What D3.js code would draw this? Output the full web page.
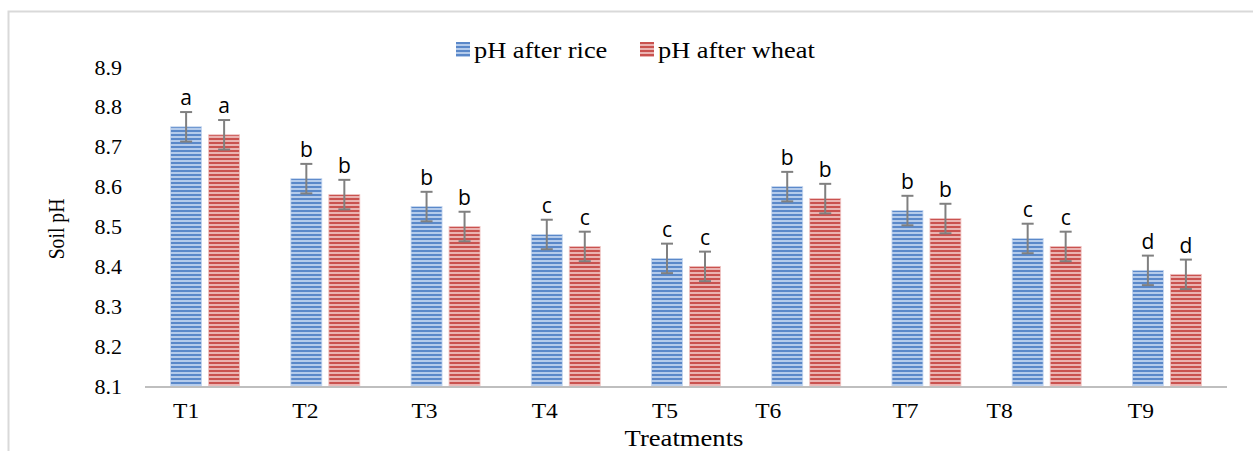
<!DOCTYPE html>
<html>
<head>
<meta charset="utf-8">
<script src="https://cdn.jsdelivr.net/npm/d3@7"></script>
<style>
  body { margin: 0; background: #fff; }
  svg { display: block; }
</style>
</head>
<body>
<div id="chart"></div>
<script>
// data
var treatments = ["T1", "T2", "T3", "T4", "T5", "T6", "T7", "T8", "T9"];
var phRice  = [8.75, 8.62, 8.55, 8.48, 8.42, 8.60, 8.54, 8.47, 8.39];
var phWheat = [8.73, 8.58, 8.50, 8.45, 8.40, 8.57, 8.52, 8.45, 8.38];
var errRice  = [0.037, 0.037, 0.037, 0.037, 0.037, 0.037, 0.037, 0.037, 0.037];
var errWheat = [0.037, 0.037, 0.037, 0.037, 0.037, 0.037, 0.037, 0.037, 0.037];
var lettersRice  = ["a", "b", "b", "c", "c", "b", "b", "c", "d"];
var lettersWheat = ["a", "b", "b", "c", "c", "b", "b", "c", "d"];
var yTicks = [8.1, 8.2, 8.3, 8.4, 8.5, 8.6, 8.7, 8.8, 8.9];
// the category labels in the original sit off-centre (hand placed)
var labelShift = [-19, -20, -21, -21, -21, -38, -21, -47, -26];

var svgWidth = 1253;
var svgHeight = 451;
var serif = "'Liberation Serif', 'Times New Roman', serif";

var svg = d3.select("#chart").append("svg")
    .attr("width", svgWidth)
    .attr("height", svgHeight);

// stripe patterns for the bars
var defs = svg.append("defs");
function stripes(id, light, dark) {
    var p = defs.append("pattern")
        .attr("id", id)
        .attr("patternUnits", "userSpaceOnUse")
        .attr("width", 8).attr("height", 4);
    p.append("rect").attr("width", 8).attr("height", 4).attr("fill", light);
    p.append("rect").attr("y", 2).attr("width", 8).attr("height", 2).attr("fill", dark);
}
stripes("riceFill", "#b4cbeb", "#5a88c9");
stripes("wheatFill", "#eab3b1", "#c9524f");

// outer frame (only top and left edges visible)
svg.append("path")
    .attr("d", "M8.5,451 V11.5 H1253")
    .attr("fill", "none")
    .attr("stroke", "#d9d9d9")
    .attr("stroke-width", 2);

var x = d3.scaleBand()
    .domain(treatments)
    .range([145, 1227]);

var y = d3.scaleLinear()
    .domain([8.1, 8.9])
    .range([386, 67]);

var barW = 31, gap = 7;

// y tick labels (no axis line in original)
var yAxis = d3.axisLeft(y).tickValues(yTicks).tickFormat(d3.format(".1f")).tickSize(0).tickPadding(0);
var yg = svg.append("g")
    .attr("transform", "translate(122,0)")
    .call(yAxis);
yg.select(".domain").remove();
yg.selectAll("text")
    .attr("font-family", serif)
    .attr("font-size", 22)
    .attr("fill", "#000");

// bars
var groups = svg.append("g").selectAll("g")
    .data(treatments)
    .join("g")
    .attr("transform", d => "translate(" + (x(d) + x.bandwidth() / 2) + ",0)");

function drawSeries(vals, errs, letters, fill, edge, dx) {
    groups.append("rect")
        .attr("x", (d, i) => dx)
        .attr("y", (d, i) => y(vals[i]))
        .attr("width", barW)
        .attr("height", (d, i) => y(8.1) - y(vals[i]))
        .attr("fill", "url(#" + fill + ")")
        .attr("stroke", edge)
        .attr("stroke-width", 0.8);

    var cx = dx + barW / 2;
    groups.append("line")
        .attr("x1", cx).attr("x2", cx)
        .attr("y1", (d, i) => y(vals[i] + errs[i]))
        .attr("y2", (d, i) => y(vals[i] - errs[i]))
        .attr("stroke", "#808080").attr("stroke-width", 2);
    [1, -1].forEach(function(s) {
        groups.append("line")
            .attr("x1", cx - 6).attr("x2", cx + 6)
            .attr("y1", (d, i) => y(vals[i] + s * errs[i]))
            .attr("y2", (d, i) => y(vals[i] + s * errs[i]))
            .attr("stroke", "#808080").attr("stroke-width", 2);
    });

    groups.append("text")
        .attr("x", cx)
        .attr("y", (d, i) => y(vals[i] + errs[i]) - 7)
        .attr("text-anchor", "middle")
        .attr("font-family", "'Open Sans', 'Liberation Sans', sans-serif")
        .attr("font-size", 21)
        .attr("fill", "#000")
        .text((d, i) => letters[i]);
}
drawSeries(phRice, errRice, lettersRice, "riceFill", "#c6d7ef", -barW - gap / 2);
drawSeries(phWheat, errWheat, lettersWheat, "wheatFill", "#efc4c3", gap / 2);

// x axis line
svg.append("line")
    .attr("x1", x.range()[0]).attr("x2", x.range()[1])
    .attr("y1", y(8.1) + 1).attr("y2", y(8.1) + 1)
    .attr("stroke", "#bfbfbf").attr("stroke-width", 2);

// category labels
svg.append("g").selectAll("text")
    .data(treatments)
    .join("text")
    .attr("transform", (d, i) => "translate(" + (x(d) + x.bandwidth() / 2 + labelShift[i]) + ",418) scale(1.07,1)")
    .attr("text-anchor", "middle")
    .attr("font-family", serif)
    .attr("font-size", 22)
    .attr("fill", "#000")
    .text(d => d);

// axis titles
svg.append("text")
    .attr("transform", "translate(684,446) scale(1.11,1)")
    .attr("text-anchor", "middle")
    .attr("font-family", serif)
    .attr("font-size", 24)
    .text("Treatments");

svg.append("text")
    .attr("transform", "translate(64,229) scale(1,0.82) rotate(-90)")
    .attr("text-anchor", "middle")
    .attr("font-family", serif)
    .attr("font-size", 24)
    .text("Soil pH");

// legend
var legend = [
    { name: "pH after rice", fill: "riceFill", x: 456 },
    { name: "pH after wheat", fill: "wheatFill", x: 640 }
];
var lg = svg.append("g").selectAll("g")
    .data(legend)
    .join("g")
    .attr("transform", d => "translate(" + d.x + ",0)");
lg.append("rect")
    .attr("y", 42).attr("width", 14).attr("height", 15)
    .attr("fill", d => "url(#" + d.fill + ")");
lg.append("text")
    .attr("transform", "translate(18,58) scale(1.1,1)")
    .attr("font-family", serif)
    .attr("font-size", 24)
    .text(d => d.name);
</script>
</body>
</html>
